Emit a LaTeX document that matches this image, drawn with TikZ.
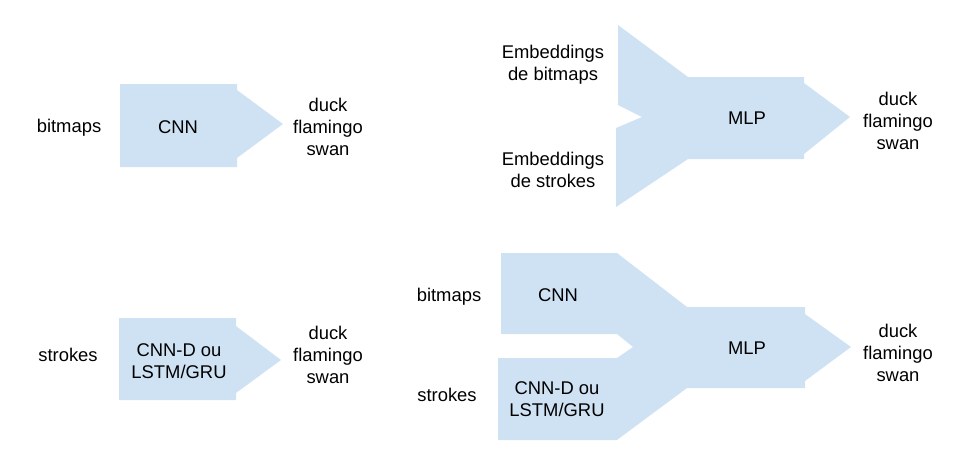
\documentclass[tikz,border=0pt]{standalone}
\usepackage{fontspec}
\setmainfont{Liberation Sans}
\usepackage{xcolor}
\usepackage{tikz}
\usetikzlibrary{positioning}
\definecolor{shapeblue}{RGB}{207,226,243}

\begin{document}
\begin{tikzpicture}[
    x=1pt, y=-1pt,
    font=\fontsize{18.4}{22}\selectfont,
    lbl/.style={align=center, inner sep=0pt},
    flow/.style={fill=shapeblue, draw=none}
]
\useasboundingbox (0,0) rectangle (970,469);

% Arrow shapes (single models, left)
\fill[flow] (120,84) -- (237,84) -- (237,90) -- (283,124) -- (237,158) -- (237,167) -- (120,167) -- cycle;
\fill[flow] (119,318) -- (236,318) -- (236,326) -- (281,360) -- (236,393) -- (236,400) -- (119,400) -- cycle;

% Merging shapes (right)
\fill[flow] (618,25) -- (688,77) -- (804,77) -- (804,83) -- (850,117) -- (804,154) -- (804,159) -- (688,159)
    -- (616,207) -- (616,128) -- (642,117) -- (618,105) -- cycle;
\fill[flow] (501,253) -- (617,253) -- (687,307) -- (805,307) -- (805,314) -- (851,347) -- (805,381) -- (805,388)
    -- (687,388) -- (617,440) -- (498,440) -- (498,358) -- (617,358) -- (633,347) -- (617,334) -- (501,334) -- cycle;

% Nodes (top left)
\node[lbl] (bmA) at (69,128) {bitmaps};
\node[lbl] (cnnA) at (178,127) {CNN};
\node[lbl] (outA) at (328,127) {duck\\flamingo\\swan};

% Nodes (bottom left)
\node[lbl] (stA) at (68,355) {strokes};
\node[lbl] (rnnA) at (179,361) {CNN-D ou\\LSTM/GRU};
\node[lbl] (outB) at (328,355) {duck\\flamingo\\swan};

% Nodes (top right)
\node[lbl] (embA) at (553,65) {Embeddings\\de bitmaps};
\node[lbl] (embB) at (553,170) {Embeddings\\de strokes};
\node[lbl] (mlpA) at (747,118) {MLP};
\node[lbl] (outC) at (898,121) {duck\\flamingo\\swan};

% Nodes (bottom right)
\node[lbl] (bmB) at (449,297) {bitmaps};
\node[lbl] (cnnB) at (558,295) {CNN};
\node[lbl] (stB) at (447,395) {strokes};
\node[lbl] (rnnB) at (557,399) {CNN-D ou\\LSTM/GRU};
\node[lbl] (mlpB) at (747,348) {MLP};
\node[lbl] (outD) at (898,353) {duck\\flamingo\\swan};

\end{tikzpicture}
\end{document}
